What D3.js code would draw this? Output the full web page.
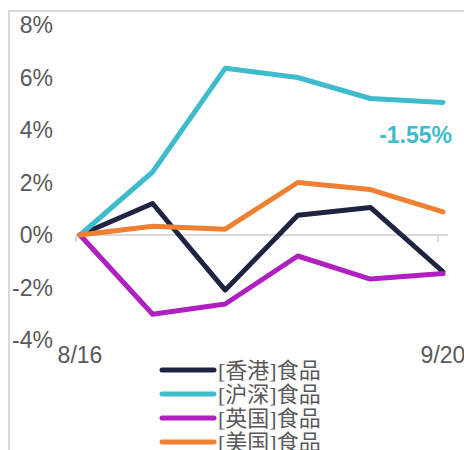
<!DOCTYPE html>
<html>
<head>
<meta charset="utf-8">
<script src="https://cdn.jsdelivr.net/npm/d3@7"></script>
<style>
  body { margin: 0; background: #fff; }
  svg { display: block; }
</style>
</head>
<body>
<div id="chart"></div>
<script>
// data
var dates = ["8/16", "8/23", "8/30", "9/6", "9/13", "9/20"];
var seriesNames = ["[香港]食品", "[沪深]食品", "[英国]食品", "[美国]食品"];
var hk = [0, 1.2, -2.1, 0.75, 1.05, -1.4];
var hs = [0, 2.4, 6.35, 6.0, 5.2, 5.05];
var uk = [0, -3.02, -2.63, -0.8, -1.68, -1.47];
var us = [0, 0.33, 0.22, 2.0, 1.73, 0.88];
var colors = ["#1e2440", "#3fbccb", "#b01fbf", "#ef7f32"];
var yTicks = [8, 6, 4, 2, 0, -2, -4];
var xLabels = ["8/16", "9/20"];
var note = "-1.55%";

var allSeries = [hk, hs, uk, us];

var width = 464, height = 450;

var svg = d3.select("#chart")
    .append("svg")
    .attr("width", width)
    .attr("height", height);

// frame (top + left edge)
svg.append("line")
    .attr("x1", 8).attr("x2", width).attr("y1", 11).attr("y2", 11)
    .attr("stroke", "#d9d9d9").attr("stroke-width", 2);
svg.append("line")
    .attr("x1", 9).attr("x2", 9).attr("y1", 11).attr("y2", height)
    .attr("stroke", "#d9d9d9").attr("stroke-width", 2);

var x = d3.scalePoint().domain(dates).range([80, 443]);
var y = d3.scaleLinear().domain([-4, 8]).range([340, 25]);

// y labels
svg.append("g")
    .selectAll("text")
    .data(yTicks)
    .enter()
    .append("text")
    .attr("x", 53)
    .attr("y", function(d) { return y(d); })
    .attr("dy", "0.36em")
    .attr("text-anchor", "end")
    .attr("font-family", "Liberation Sans, Arial, sans-serif")
    .attr("font-size", 23)
    .attr("fill", "#595959")
    .text(function(d) { return d + "%"; });

// zero line with ticks
var x0 = x(dates[0]) - 4, x1 = x(dates[dates.length - 1]) + 5;
svg.append("line")
    .attr("x1", x0).attr("x2", x1)
    .attr("y1", y(0)).attr("y2", y(0))
    .attr("stroke", "#d9d9d9").attr("stroke-width", 2);
svg.append("g")
    .selectAll("line")
    .data([x0, x(dates[dates.length - 1]) - 5])
    .enter()
    .append("line")
    .attr("x1", function(d) { return d; })
    .attr("x2", function(d) { return d; })
    .attr("y1", y(0)).attr("y2", y(0) + 7)
    .attr("stroke", "#d9d9d9").attr("stroke-width", 2);

// x labels
svg.append("g")
    .selectAll("text")
    .data(xLabels)
    .enter()
    .append("text")
    .attr("x", function(d) { return x(d); })
    .attr("y", 363)
    .attr("text-anchor", "middle")
    .attr("font-family", "Liberation Sans, Arial, sans-serif")
    .attr("font-size", 23)
    .attr("fill", "#595959")
    .text(function(d) { return d; });

// lines
var line = d3.line()
    .x(function(d, i) { return x(dates[i]); })
    .y(function(d) { return y(d); });

svg.append("g")
    .selectAll("path")
    .data(allSeries)
    .enter()
    .append("path")
    .attr("d", line)
    .attr("fill", "none")
    .attr("stroke", function(d, i) { return colors[i]; })
    .attr("stroke-width", 5)
    .attr("stroke-linejoin", "round")
    .attr("stroke-linecap", "round");

// annotation
svg.append("text")
    .attr("x", 452)
    .attr("y", 143)
    .attr("text-anchor", "end")
    .attr("font-family", "Liberation Sans, Arial, sans-serif")
    .attr("font-weight", "bold")
    .attr("font-size", 23)
    .attr("fill", colors[1])
    .text(note);

// legend (rows overlap slightly, as in the original)
var legend = svg.append("g")
    .selectAll("g")
    .data(seriesNames)
    .enter()
    .append("g")
    .attr("transform", function(d, i) { return "translate(0," + (370 + i * 24) + ")"; });

legend.append("line")
    .attr("x1", 162).attr("x2", 214)
    .attr("stroke", function(d, i) { return colors[i]; })
    .attr("stroke-width", 5)
    .attr("stroke-linecap", "round");

legend.append("text")
    .attr("x", 218)
    .attr("y", 8)
    .attr("font-family", "Liberation Serif, Noto Sans CJK SC, serif")
    .attr("font-size", 22)
    .attr("fill", "#595959")
    .text(function(d) { return d; });
</script>
</body>
</html>
